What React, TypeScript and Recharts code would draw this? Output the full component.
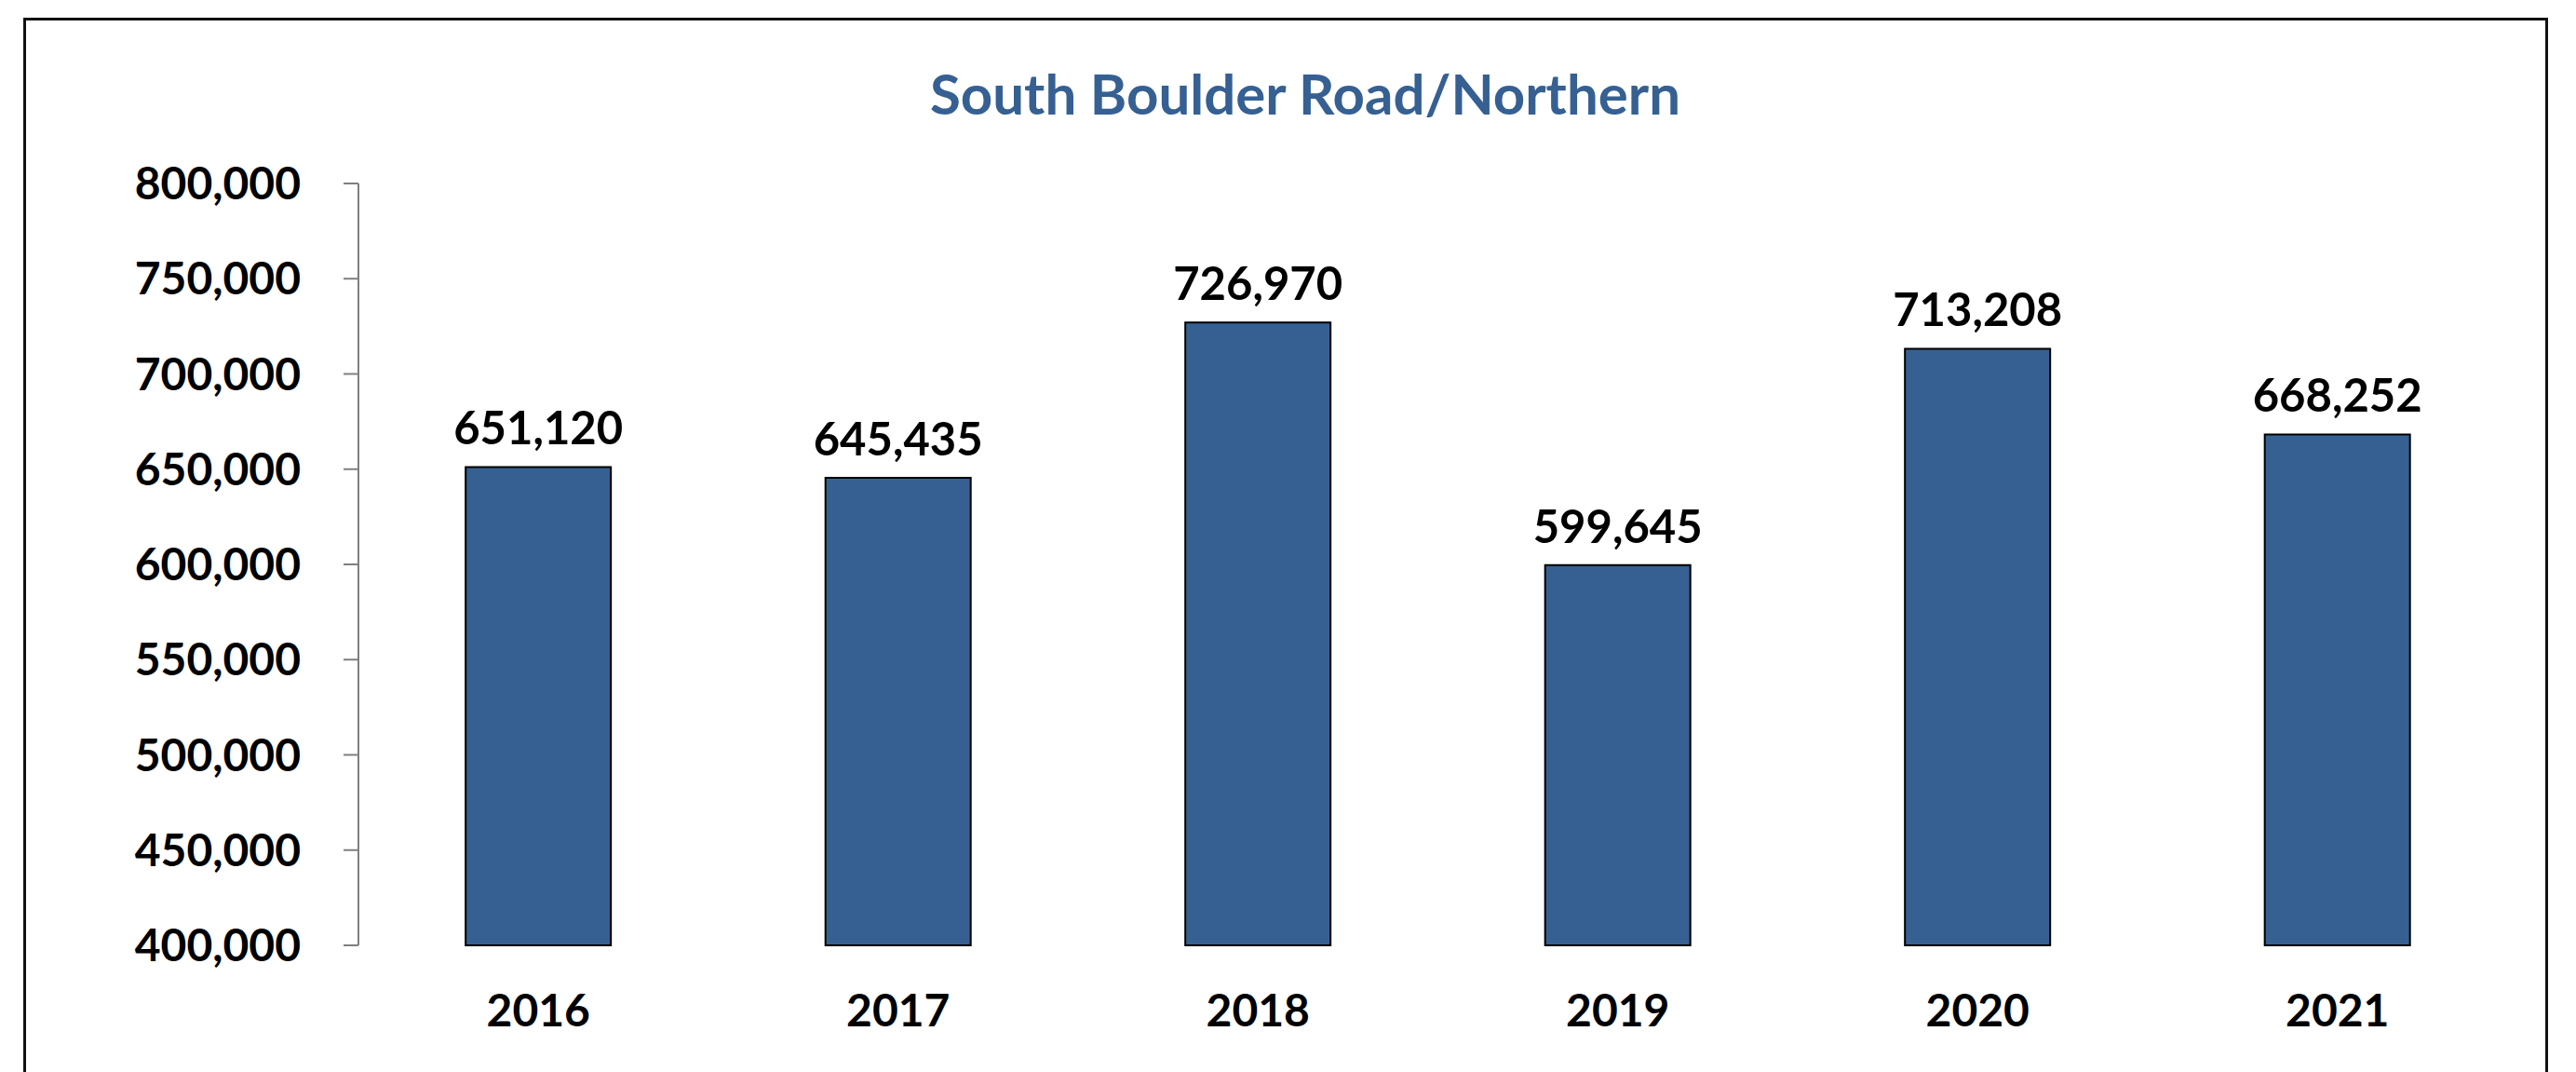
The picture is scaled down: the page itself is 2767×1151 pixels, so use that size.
import { Bar, BarChart, LabelList, XAxis, YAxis } from "recharts";

const years = ["2016", "2017", "2018", "2019", "2020", "2021"];
const traffic = [651120, 645435, 726970, 599645, 713208, 668252];
const yTicks = [400000, 450000, 500000, 550000, 600000, 650000, 700000, 750000, 800000];

const chartTitle = "South Boulder Road/Northern";

const blue = "#366092";
const font = "Lato, 'Open Sans', sans-serif";

const fmt = (v: number) => v.toLocaleString("en-US");

export default function App() {
	const data = years.map((year, i) => ({ year, value: traffic[i] }));

	return (
		<div
			style={{
				position: "absolute",
				left: 0,
				top: 0,
				width: 2767,
				height: 1151,
				overflow: "hidden",
				background: "#fff",
			}}
		>
			{/* chart frame, bottom edge runs off the page */}
			<div
				style={{
					position: "absolute",
					left: 25,
					top: 19,
					width: 2706,
					height: 1300,
					border: "3px solid #111",
				}}
			/>
			<svg
				width={2767}
				height={160}
				style={{ position: "absolute", left: 0, top: 0 }}
			>
				<text
					x={1402}
					y={123}
					textAnchor="middle"
					fill={blue}
					fontFamily={font}
					fontWeight="bold"
					fontSize={60}
				>
					{chartTitle}
				</text>
			</svg>
			<div style={{ position: "absolute", left: 0, top: 0 }}>
				<BarChart
					width={2767}
					height={1151}
					data={data}
					margin={{ top: 197, right: 63, left: 0, bottom: 36 }}
					barCategoryGap="29.8%"
				>
					<XAxis
						dataKey="year"
						axisLine={false}
						tickLine={false}
						tickSize={0}
						tickMargin={53}
						height={100}
						tick={{
							fill: "#000",
							fontSize: 48,
							fontWeight: "bold",
							fontFamily: font,
						}}
					/>
					<YAxis
						width={385}
						domain={[400000, 800000]}
						ticks={yTicks}
						interval={0}
						tickFormatter={fmt}
						axisLine={{ stroke: "#7f7f7f", strokeWidth: 2 }}
						tickLine={{ stroke: "#7f7f7f", strokeWidth: 2 }}
						tickSize={16}
						tickMargin={46}
						tick={{
							fill: "#000",
							fontSize: 48,
							fontWeight: "bold",
							fontFamily: font,
						}}
					/>
					<Bar
						dataKey="value"
						fill={blue}
						stroke="#000"
						strokeWidth={2}
						isAnimationActive={false}
					>
						<LabelList
							dataKey="value"
							position="top"
							offset={24}
							formatter={(v: number) => fmt(v)}
							fill="#000"
							fontSize={49}
							fontWeight="bold"
							fontFamily={font}
						/>
					</Bar>
				</BarChart>
			</div>
		</div>
	);
}
